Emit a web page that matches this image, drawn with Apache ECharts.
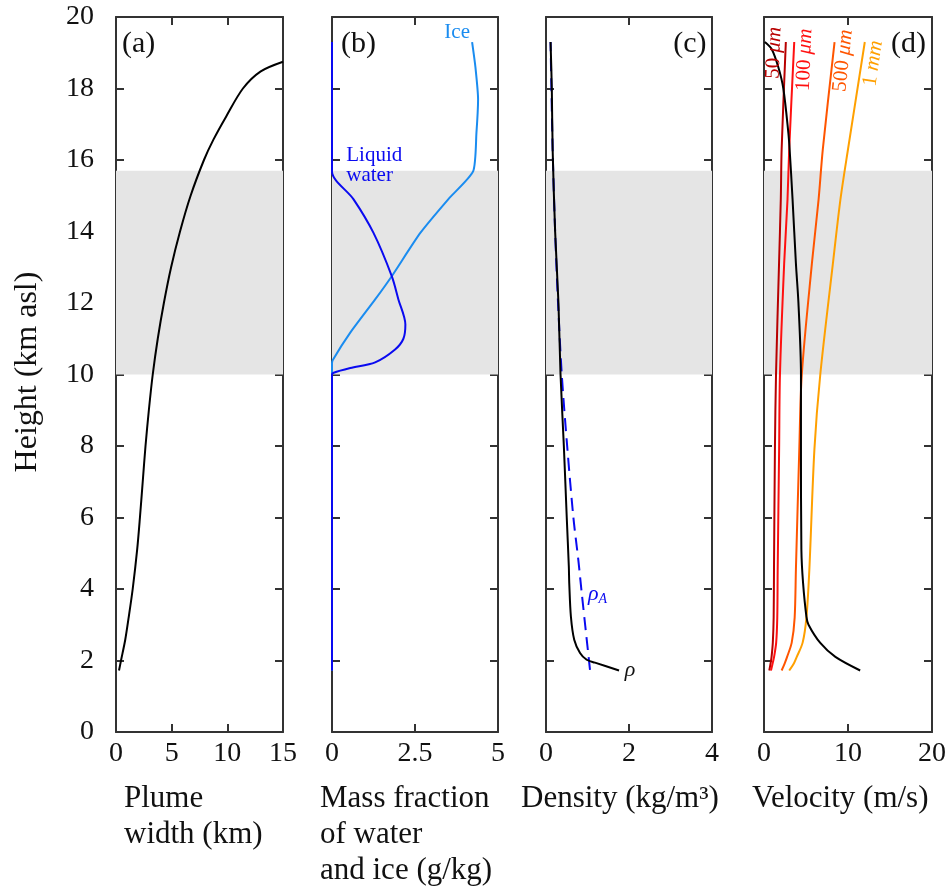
<!DOCTYPE html>
<html><head><meta charset="utf-8">
<script src="https://cdn.jsdelivr.net/npm/echarts@6/dist/echarts.min.js"></script>
<style>html,body{margin:0;padding:0;background:#fff}#c{width:952px;height:892px}</style>
</head><body><div id="c"></div>
<script>
const FONT = "'Liberation Serif','Times New Roman',serif";

// ---------- data ----------
const bandLow = 10, bandHigh = 15.7;           // shaded height band (km)

// (a) plume width
const plumeHeight = [1.72, 2.0, 2.58, 3.23, 4.0, 5.1, 6, 7, 8, 9, 10, 11, 12, 13, 14, 15, 16.0, 16.57, 17.22, 18.0, 18.48, 18.75];
const plumeWidth  = [0.27, 0.45, 0.83, 1.15, 1.5, 1.9, 2.15, 2.4, 2.65, 2.95, 3.3, 3.75, 4.3, 4.95, 5.75, 6.7, 7.9, 8.75, 9.9, 11.4, 13.0, 15.0];

// (b) mass fractions (g/kg)
const waterHeight = [1.72, 10.0, 10.05, 10.18, 10.34, 10.7, 11.0, 11.4, 12.1, 12.75, 13.96, 14.9, 15.68, 16.2, 19.3];
const waterFrac   = [0, 0, 0.05, 0.55, 1.3, 1.9, 2.15, 2.21, 2.0, 1.8, 1.25, 0.65, 0, 0, 0];
const iceHeight = [1.72, 10.3, 10.4, 11.17, 12.1, 12.75, 13.96, 14.9, 15.68, 16.75, 17.7, 18.6, 19.3];
const iceFrac   = [0, 0, 0.02, 0.55, 1.3, 1.8, 2.66, 3.5, 4.25, 4.35, 4.4, 4.32, 4.22];

// (c) density (kg/m3)
const rhoHeight = [1.72, 1.94, 2.02, 2.21, 2.58, 3.23, 4.17, 4.63, 6, 8, 10, 12, 14, 16.3, 18, 19.3];
const rhoValue  = [1.76, 1.18, 0.98, 0.82, 0.68, 0.6, 0.56, 0.55, 0.5, 0.43, 0.35, 0.3, 0.22, 0.16, 0.14, 0.11];
const rhoAHeight = [1.74, 3.9, 4.8, 6, 8, 10, 12, 14, 16.3, 19.3];
const rhoAValue  = [1.06, 0.86, 0.78, 0.66, 0.51, 0.38, 0.29, 0.22, 0.16, 0.11];

// (d) velocity (m/s)
const velHeight = [1.72, 2.1, 2.49, 3.0, 3.23, 4.17, 5.1, 8, 10, 12, 13.1, 14.9, 16.3, 16.76, 18.0, 18.6, 19.1, 19.3];
const velValue  = [11.45, 8.5, 6.7, 5.3, 5.05, 4.65, 4.45, 4.4, 4.4, 4.1, 3.8, 3.4, 3.05, 2.9, 2.3, 1.7, 0.92, 0.1];
const particleHeight = [1.72, 1.94, 2.1, 2.5, 3.2, 4.55, 7.9, 10, 13.1, 14.9, 16.3, 19.3];
const v50um  = [0.63, 0.8, 0.9, 1.05, 1.15, 1.19, 1.3, 1.43, 1.79, 2.0, 2.1, 2.6];
const v100um = [0.83, 1.05, 1.2, 1.45, 1.58, 1.63, 1.8, 1.9, 2.4, 2.8, 3.0, 3.6];
const v500um = [2.1, 2.5, 2.75, 3.3, 3.65, 3.8, 4.2, 4.5, 5.7, 6.5, 7.0, 8.4];
const v1mm   = [3.0, 3.6, 3.9, 4.6, 5.05, 5.4, 6.0, 6.7, 8.2, 9.1, 10.0, 12.0];

// axis ranges / ticks
const xMax      = [15, 5, 4, 20];
const xInterval = [5, 2.5, 2, 10];
const yMin = 0, yMax = 20, yInterval = 2;

// ---------- layout ----------
const grids = [
  {left: 116, top: 17, width: 167, height: 715},
  {left: 332, top: 17, width: 166, height: 715},
  {left: 546, top: 17, width: 166, height: 715},
  {left: 764, top: 17, width: 168, height: 715}
];
const AX = '#333333';
function pairs(xs, ys){ return ys.map((y,i)=>[xs[i], y]); }

const xAxes = [], yAxes = [];
grids.forEach((g, i) => {
  const common = {type:'value', gridIndex:i, min:0, max:xMax[i], interval:xInterval[i],
    axisLine:{show:true, onZero:false, lineStyle:{color:AX, width:2}},
    axisTick:{show:true, inside:true, length:8, lineStyle:{color:AX, width:2}},
    splitLine:{show:false}};
  xAxes.push(Object.assign({}, common, {position:'bottom',
    axisLabel:{show:true, fontFamily:FONT, fontSize:28, color:'#111', margin:8}}));
  xAxes.push(Object.assign({}, common, {position:'top', axisLabel:{show:false}}));
  const yc = {type:'value', gridIndex:i, min:yMin, max:yMax, interval:yInterval,
    axisLine:{show:true, onZero:false, lineStyle:{color:AX, width:2}},
    axisTick:{show:true, inside:true, length:8, lineStyle:{color:AX, width:2}},
    splitLine:{show:false}};
  yAxes.push(Object.assign({}, yc, {position:'left',
    axisLabel:{show: i===0, fontFamily:FONT, fontSize:28, color:'#111', margin:22}}));
  yAxes.push(Object.assign({}, yc, {position:'right', axisLabel:{show:false}}));
});

function line(gi, data, color, extra){
  return Object.assign({type:'line', xAxisIndex:gi*2, yAxisIndex:gi*2, data:data,
    showSymbol:false, symbol:'none', smooth:0.3,
    lineStyle:{color:color, width:2}, itemStyle:{color:color}, animation:false, silent:true}, extra||{});
}
const band = {silent:true, itemStyle:{color:'#e5e5e5'}, data:[[{yAxis:bandLow},{yAxis:bandHigh}]]};

const series = [
  line(0, pairs(plumeWidth, plumeHeight), '#000', {markArea:band}),
  line(1, pairs(iceFrac, iceHeight), '#1a8cf0', {markArea:band, smooth:0.2}),
  line(1, pairs(waterFrac, waterHeight), '#0a0af0'),
  line(2, pairs(rhoAValue, rhoAHeight), '#0a0af0', {markArea:band, lineStyle:{color:'#0a0af0', width:2, type:[13,7]}}),
  line(2, pairs(rhoValue, rhoHeight), '#000'),
  line(3, pairs(v50um, particleHeight), '#b80000', {markArea:band}),
  line(3, pairs(v100um, particleHeight), '#ff1010'),
  line(3, pairs(v500um, particleHeight), '#ff5500'),
  line(3, pairs(v1mm, particleHeight), '#ffa000'),
  line(3, pairs(velValue, velHeight), '#000')
];

const chart = echarts.init(document.getElementById('c'), null, {renderer:'canvas'});
chart.setOption({animation:false, backgroundColor:'#fff', grid:grids, xAxis:xAxes, yAxis:yAxes, series:series});

function px(gi, x, y){ return chart.convertToPixel({xAxisIndex:gi*2, yAxisIndex:gi*2}, [x, y]); }
function txt(p, text, o){
  return {type:'text', x:p[0], y:p[1], rotation:o.rot||0, z:100,
    style:Object.assign({text:text, fontFamily:FONT, fontSize:o.size||21, fill:o.color||'#111',
      align:o.align||'left', verticalAlign:o.va||'middle', lineHeight:o.lh}, o.style||{})};
}
const g = [];
// panel letters
g.push(txt(px(0, 0.54, 19.25), '(a)', {size:30}));
g.push(txt(px(1, 0.27, 19.25), '(b)', {size:30}));
g.push(txt(px(2, 3.87, 19.25), '(c)', {size:30, align:'right'}));
g.push(txt(px(3, 19.28, 19.25), '(d)', {size:30, align:'right'}));
// panel b labels
g.push(txt(px(1, 3.77, 19.58), 'Ice', {color:'#1a8cf0', align:'center'}));
g.push(txt(px(1, 0.43, 15.84), 'Liquid\nwater', {color:'#0a0af0', lh:20}));
// panel c labels
g.push(txt(px(2, 1.9, 1.72), '', {style:{rich:{i:{fontStyle:'italic', fontSize:22, fontFamily:FONT, fill:'#111'}}, text:'{i|ρ}'}}));
g.push(txt(px(2, 1.01, 3.85), '', {style:{rich:{
  i:{fontStyle:'italic', fontSize:22, fontFamily:FONT, fill:'#0a0af0'},
  s:{fontStyle:'italic', fontSize:14, fontFamily:FONT, fill:'#0a0af0', padding:[10,0,0,0]}}, text:'{i|ρ}{s|A}'}}));
// panel d labels (rotated)
function rotLab(x, y, num, unit, color, deg){
  return txt(px(3, x, y), '', {align:'center', rot:deg*Math.PI/180, style:{rich:{
    n:{fontSize:21, fontFamily:FONT, fill:color},
    u:{fontSize:21, fontFamily:FONT, fontStyle:'italic', fill:color}}, text:'{n|'+num+' }{u|'+unit+'}'}});
}
g.push(rotLab(1.19, 19.0, '50', 'μm', '#b80000', 88));
g.push(rotLab(4.83, 18.8, '100', 'μm', '#ff1010', 87.5));
g.push(rotLab(9.42, 18.78, '500', 'μm', '#ff5500', 84));
g.push(rotLab(13.0, 18.7, '1', 'mm', '#ffa000', 81.5));
// axis titles
g.push({type:'text', x:28, y:372, rotation:Math.PI/2, style:{text:'Height (km asl)', fontFamily:FONT, fontSize:32, fill:'#111', align:'center', verticalAlign:'middle'}});
function name(x, y, t){ return {type:'text', x:x, y:y, style:{text:t, fontFamily:FONT, fontSize:31, fill:'#111', align:'left', verticalAlign:'top', lineHeight:36}}; }
g.push(name(124, 781, 'Plume\nwidth (km)'));
g.push(name(320, 781, 'Mass fraction\nof water\nand ice (g/kg)'));
g.push(name(521, 781, 'Density (kg/m³)'));
g.push(name(752, 781, 'Velocity (m/s)'));
chart.setOption({graphic:g});
</script></body></html>
